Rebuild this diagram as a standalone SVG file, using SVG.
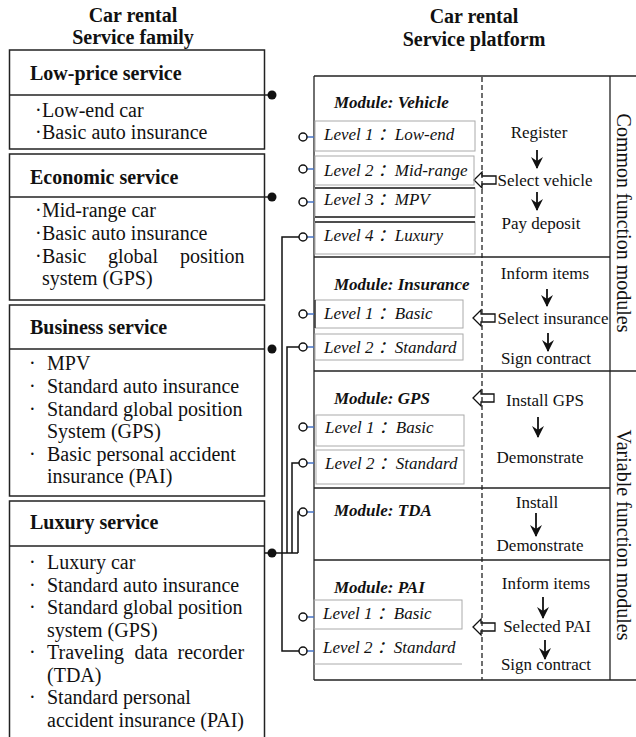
<svg xmlns="http://www.w3.org/2000/svg" width="636" height="737" viewBox="0 0 636 737">
<defs>
<style>
text{font-family:"Liberation Serif","Times New Roman",serif;fill:#111;}
.title{font-size:20px;font-weight:bold;text-anchor:middle;}
.hd{font-size:20px;font-weight:bold;}
.it{font-size:20px;}
.mod{font-size:17px;font-weight:bold;font-style:italic;}
.lv{font-size:17px;font-style:italic;font-family:"Liberation Serif","Noto Sans CJK SC",serif;}
.pr{font-size:17px;text-anchor:middle;}
.vt{font-size:20px;text-anchor:middle;}
.box{fill:none;stroke:#222;stroke-width:1.5;}
.ln{fill:none;stroke:#222;stroke-width:1.5;}
.lvb{fill:none;stroke:#aaa;stroke-width:1;}
.blk{stroke:#222;stroke-width:1.3;}
.dash{stroke:#222;stroke-width:1.3;stroke-dasharray:5 3;}
.con{fill:none;stroke:#111;stroke-width:1.5;}
.dot{fill:#111;}
.port{fill:#fff;stroke:#111;stroke-width:1.5;}
.stub{stroke:#4472C4;stroke-width:1.5;}
.flow{stroke:#111;stroke-width:1.8;marker-end:url(#ah);}
.harr{fill:#fff;stroke:#111;stroke-width:1.3;}
</style>
<marker id="ah" viewBox="0 0 12 12" refX="11" refY="6" markerWidth="12" markerHeight="12" markerUnits="userSpaceOnUse" orient="auto">
<path d="M0,0 L12,6 L0,12 L4,6 Z" fill="#111"/>
</marker>
</defs>

<!-- Titles -->
<text class="title" x="133" y="22">Car rental</text>
<text class="title" x="133" y="44">Service family</text>
<text class="title" x="474" y="23">Car rental</text>
<text class="title" x="474" y="46">Service platform</text>

<!-- Service family nodes -->
<g id="low-price">
<rect class="box" x="9.5" y="50" width="255" height="99"/>
<line class="ln" x1="9.5" y1="95" x2="272" y2="95"/>
<text class="hd" x="30" y="80">Low-price service</text>
<text class="it" y="117"><tspan x="35">·</tspan><tspan x="42">Low-end car</tspan></text>
<text class="it" y="139"><tspan x="35">·</tspan><tspan x="42">Basic auto insurance</tspan></text>
</g>

<g id="economic">
<rect class="box" x="9.5" y="154" width="255" height="146"/>
<line class="ln" x1="9.5" y1="197" x2="272" y2="197"/>
<text class="hd" x="30" y="184">Economic service</text>
<text class="it" y="217"><tspan x="35">·</tspan><tspan x="42">Mid-range car</tspan></text>
<text class="it" y="240"><tspan x="35">·</tspan><tspan x="42">Basic auto insurance</tspan></text>
<text class="it" y="263"><tspan x="35">·</tspan><tspan x="42">Basic</tspan><tspan x="108">global</tspan><tspan x="180">position</tspan></text>
<text class="it" x="42" y="285">system (GPS)</text>
</g>

<g id="business">
<rect class="box" x="9.5" y="305" width="255" height="191"/>
<line class="ln" x1="9.5" y1="349" x2="264.5" y2="349"/>
<text class="hd" x="30" y="334">Business service</text>
<text class="it" y="370"><tspan x="29">·</tspan><tspan x="47">MPV</tspan></text>
<text class="it" y="393"><tspan x="29">·</tspan><tspan x="47">Standard auto insurance</tspan></text>
<text class="it" y="416"><tspan x="29">·</tspan><tspan x="47">Standard global position</tspan></text>
<text class="it" x="47" y="438">System (GPS)</text>
<text class="it" y="461"><tspan x="29">·</tspan><tspan x="47">Basic personal accident</tspan></text>
<text class="it" x="47" y="483">insurance (PAI)</text>
</g>

<g id="luxury">
<path class="box" d="M9.5,740 V501 H264.5 V740"/>
<line class="ln" x1="9.5" y1="546" x2="264.5" y2="546"/>
<text class="hd" x="30" y="529">Luxury service</text>
<text class="it" y="569"><tspan x="29">·</tspan><tspan x="47">Luxury car</tspan></text>
<text class="it" y="592"><tspan x="29">·</tspan><tspan x="47">Standard auto insurance</tspan></text>
<text class="it" y="614"><tspan x="29">·</tspan><tspan x="47">Standard global position</tspan></text>
<text class="it" x="47" y="637">system (GPS)</text>
<text class="it" y="659"><tspan x="29">·</tspan><tspan x="47">Traveling</tspan><tspan x="134.5">data</tspan><tspan x="177.5">recorder</tspan></text>
<text class="it" x="47" y="682">(TDA)</text>
<text class="it" y="704"><tspan x="29">·</tspan><tspan x="47">Standard personal</tspan></text>
<text class="it" x="47" y="727">accident insurance (PAI)</text>
</g>

<!-- Platform frame -->
<g id="platform">
<line class="blk" x1="314" y1="76" x2="636" y2="76"/>
<line class="blk" x1="314" y1="76" x2="314" y2="680"/>
<line class="blk" x1="610" y1="76" x2="610" y2="680"/>
<line class="blk" x1="314" y1="680" x2="636" y2="680"/>
<line class="blk" x1="314" y1="257" x2="610" y2="257"/>
<line class="blk" x1="314" y1="371" x2="636" y2="371"/>
<line class="blk" x1="314" y1="488" x2="610" y2="488"/>
<line class="blk" x1="314" y1="560" x2="610" y2="560"/>
<text class="vt" transform="translate(617,223) rotate(90)">Common function modules</text>
<text class="vt" transform="translate(617,535) rotate(90)">Variable function modules</text>
</g>

<!-- Hollow arrows (drawn before dashed divider) -->
<g id="hollow-arrows">
<path class="harr" d="M474,180 L482,172 L482,176 L496,176 L496,184 L482,184 L482,188 Z"/>
<path class="harr" d="M473,318 L481,310 L481,314 L495,314 L495,322 L481,322 L481,326 Z"/>
<path class="harr" d="M473,398 L481,390 L481,394 L494,394 L494,402 L481,402 L481,406 Z"/>
<path class="harr" d="M473,627 L481,619 L481,623 L495,623 L495,631 L481,631 L481,635 Z"/>
</g>
<line class="dash" x1="482" y1="77" x2="482" y2="680"/>

<!-- Module: Vehicle -->
<g id="module-vehicle">
<text class="mod" x="334" y="108">Module: Vehicle</text>
<rect class="lvb" x="315" y="121" width="160" height="30"/>
<rect class="lvb" x="315" y="156" width="159" height="29"/>
<rect class="lvb" x="315" y="188" width="160" height="29"/>
<line class="blk" x1="315" y1="188" x2="475" y2="188"/>
<line class="blk" x1="315" y1="217" x2="475" y2="217"/>
<rect class="lvb" x="315" y="222" width="160" height="32"/>
<line class="blk" x1="315" y1="222" x2="475" y2="222"/>
<text class="lv" x="324" y="140">Level 1 ：Low-end</text>
<text class="lv" x="324" y="176">Level 2 ：Mid-range</text>
<text class="lv" x="324" y="205">Level 3 ：MPV</text>
<text class="lv" x="324" y="241">Level 4 ：Luxury</text>
<text class="pr" x="539" y="138">Register</text>
<line class="flow" x1="537" y1="150" x2="537" y2="168"/>
<text class="pr" x="545" y="186">Select vehicle</text>
<line class="flow" x1="537" y1="192" x2="537" y2="210"/>
<text class="pr" x="541" y="229">Pay deposit</text>
</g>

<!-- Module: Insurance -->
<g id="module-insurance">
<text class="mod" x="334" y="290">Module: Insurance</text>
<rect class="lvb" x="315" y="300" width="148" height="28"/>
<line class="blk" x1="315" y1="300" x2="315" y2="328"/>
<rect class="lvb" x="315" y="334" width="148" height="26"/>
<text class="lv" x="324" y="319">Level 1 ：Basic</text>
<text class="lv" x="324" y="353">Level 2 ：Standard</text>
<text class="pr" x="545" y="279">Inform items</text>
<line class="flow" x1="547" y1="289" x2="547" y2="306"/>
<text class="pr" x="553" y="324">Select insurance</text>
<line class="flow" x1="548" y1="333" x2="548" y2="351"/>
<text class="pr" x="546" y="364">Sign contract</text>
</g>

<!-- Module: GPS -->
<g id="module-gps">
<text class="mod" x="334" y="404">Module: GPS</text>
<rect class="lvb" x="316" y="415" width="148" height="31"/>
<rect class="lvb" x="316" y="450" width="148" height="34"/>
<text class="lv" x="325" y="433">Level 1 ：Basic</text>
<text class="lv" x="325" y="469">Level 2 ：Standard</text>
<text class="pr" x="545" y="406">Install GPS</text>
<line class="flow" x1="538" y1="417" x2="538" y2="437"/>
<text class="pr" x="540" y="463">Demonstrate</text>
</g>

<!-- Module: TDA -->
<g id="module-tda">
<text class="mod" x="334" y="516">Module: TDA</text>
<text class="pr" x="537" y="508">Install</text>
<line class="flow" x1="536" y1="513" x2="536" y2="536"/>
<text class="pr" x="540" y="551">Demonstrate</text>
</g>

<!-- Module: PAI -->
<g id="module-pai">
<text class="mod" x="334" y="593">Module: PAI</text>
<rect class="lvb" x="314" y="600" width="148" height="29"/>
<line class="lvb" x1="314" y1="664" x2="462" y2="664"/>
<text class="lv" x="323" y="619">Level 1 ：Basic</text>
<text class="lv" x="323" y="653">Level 2 ：Standard</text>
<text class="pr" x="546" y="589">Inform items</text>
<line class="flow" x1="543" y1="597" x2="543" y2="618"/>
<text class="pr" x="547" y="632">Selected PAI</text>
<line class="flow" x1="545" y1="640" x2="545" y2="659"/>
<text class="pr" x="546" y="670">Sign contract</text>
</g>

<!-- Connectors -->
<g id="connectors">
<path class="con" d="M264.5,553 H298"/>
<path class="con" d="M299,237 H282 V651 H299"/>
<path class="con" d="M287,553 V347 H299"/>
<path class="con" d="M292,553 V463 H299"/>
<path class="con" d="M298,553 V512 H299"/>
<g id="ports">
<line class="stub" x1="307" y1="137" x2="314" y2="137"/>
<line class="stub" x1="307" y1="169" x2="314" y2="169"/>
<line class="stub" x1="307" y1="202" x2="314" y2="202"/>
<line class="stub" x1="307" y1="237" x2="314" y2="237"/>
<line class="stub" x1="307" y1="314" x2="314" y2="314"/>
<line class="stub" x1="307" y1="347" x2="314" y2="347"/>
<line class="stub" x1="307" y1="427" x2="314" y2="427"/>
<line class="stub" x1="307" y1="463" x2="314" y2="463"/>
<line class="stub" x1="307" y1="512" x2="314" y2="512"/>
<line class="stub" x1="307" y1="617" x2="314" y2="617"/>
<line class="stub" x1="307" y1="651" x2="314" y2="651"/>
<circle class="port" cx="303" cy="137" r="4"/>
<circle class="port" cx="303" cy="169" r="4"/>
<circle class="port" cx="303" cy="202" r="4"/>
<circle class="port" cx="303" cy="237" r="4"/>
<circle class="port" cx="303" cy="314" r="4"/>
<circle class="port" cx="303" cy="347" r="4"/>
<circle class="port" cx="303" cy="427" r="4"/>
<circle class="port" cx="303" cy="463" r="4"/>
<circle class="port" cx="303" cy="512" r="4"/>
<circle class="port" cx="303" cy="617" r="4"/>
<circle class="port" cx="303" cy="651" r="4"/>
</g>
<circle class="dot" cx="272" cy="95" r="4.5"/>
<circle class="dot" cx="272" cy="197" r="4.5"/>
<circle class="dot" cx="272" cy="349" r="4.5"/>
<circle class="dot" cx="272" cy="553" r="4.5"/>
</g>
</svg>
